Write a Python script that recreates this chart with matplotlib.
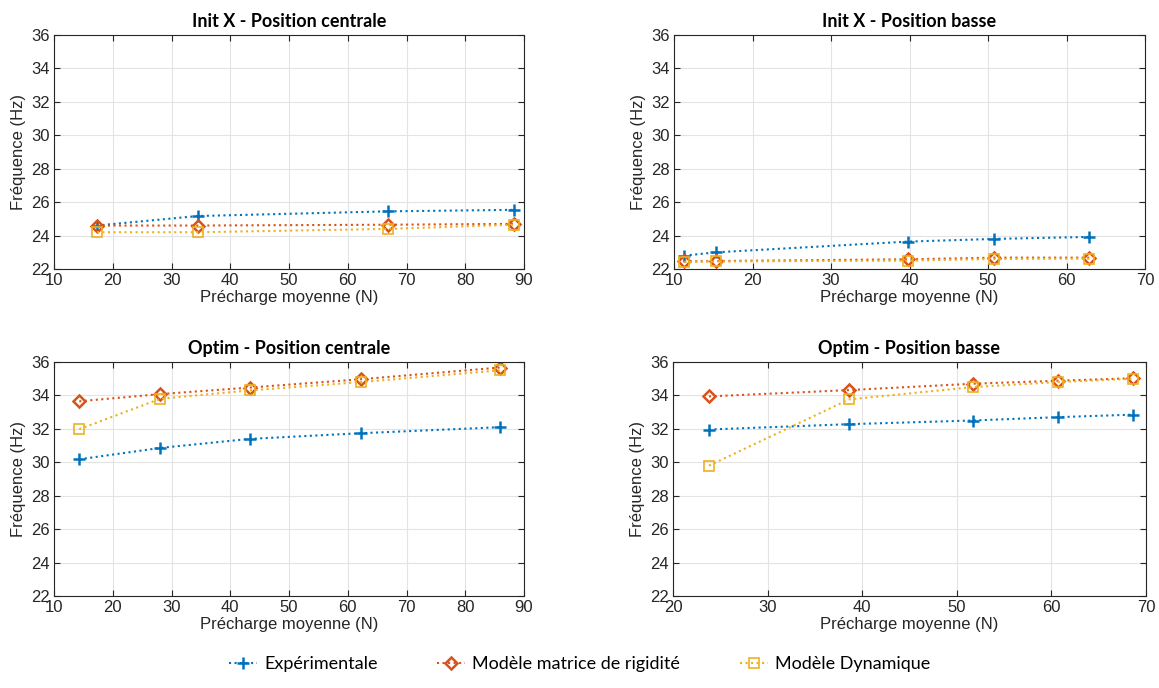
import matplotlib
matplotlib.use("Agg")
import matplotlib.pyplot as plt

# ---- data ----
titles = ["Init X - Position centrale", "Init X - Position basse",
          "Optim - Position centrale", "Optim - Position basse"]
series_names = ["Expérimentale", "Modèle matrice de rigidité", "Modèle Dynamique"]

x_tl = [17.3, 34.5, 66.9, 88.3]
exp_tl = [24.6, 25.17, 25.45, 25.54]
rig_tl = [24.6, 24.6, 24.65, 24.7]
dyn_tl = [24.2, 24.2, 24.4, 24.65]

x_tr = [11.3, 15.4, 39.8, 50.8, 62.9]
exp_tr = [22.8, 23.0, 23.64, 23.8, 23.92]
rig_tr = [22.45, 22.48, 22.58, 22.68, 22.68]
dyn_tr = [22.42, 22.45, 22.5, 22.6, 22.62]

x_bl = [14.3, 28.1, 43.3, 62.3, 85.9]
exp_bl = [30.18, 30.86, 31.4, 31.74, 32.1]
rig_bl = [33.65, 34.08, 34.47, 34.97, 35.67]
dyn_bl = [31.98, 33.8, 34.3, 34.8, 35.5]

x_br = [23.8, 38.6, 51.7, 60.7, 68.6]
exp_br = [31.96, 32.28, 32.5, 32.7, 32.85]
rig_br = [33.94, 34.32, 34.7, 34.88, 35.03]
dyn_br = [29.8, 33.76, 34.5, 34.8, 35.0]

xlims = [(10, 90), (10, 70), (10, 90), (20, 70)]
xtick_sets = [list(range(10, 91, 10)), list(range(10, 71, 10)),
              list(range(10, 91, 10)), list(range(20, 71, 10))]
yticks = list(range(22, 37, 2))

panels = [(x_tl, exp_tl, rig_tl, dyn_tl), (x_tr, exp_tr, rig_tr, dyn_tr),
          (x_bl, exp_bl, rig_bl, dyn_bl), (x_br, exp_br, rig_br, dyn_br)]

colors = ["#0072BD", "#D95319", "#EDB120"]
markers = ["+", "D", "s"]

W, H = 1159, 688
fig = plt.figure(figsize=(W / 100, H / 100), dpi=100)
# axes rects in pixels: left, right, top, bottom
rects = [(54, 524, 35, 269), (674, 1145, 35, 269),
         (54, 524, 362, 596), (673, 1146, 362, 596)]

tickfont = "Liberation Sans"
titlefont = "Lato"
handles = []
for i, (rect, data) in enumerate(zip(rects, panels)):
    l, r, t, b = rect
    ax = fig.add_axes([l / W, 1 - b / H, (r - l) / W, (b - t) / H])
    xs = data[0]
    for k in range(3):
        kw = dict(color=colors[k], linestyle=":", linewidth=1.5, marker=markers[k],
                  label=series_names[k])
        if k == 0:
            kw.update(markersize=9, markeredgewidth=1.8)
        elif k == 1:
            kw.update(markersize=6, markerfacecolor="none", markeredgewidth=1.8)
        else:
            kw.update(markersize=6.5, markerfacecolor="none", markeredgewidth=1.2)
        h, = ax.plot(xs, data[k + 1], **kw)
        if i == 0:
            handles.append(h)
    ax.set_xlim(*xlims[i])
    ax.set_ylim(22, 36)
    ax.set_xticks(xtick_sets[i])
    ax.set_yticks(yticks)
    ax.grid(True, color="#e3e3e3", linewidth=0.8)
    ax.set_axisbelow(True)
    for s in ax.spines.values():
        s.set_color("#262626")
        s.set_linewidth(0.8)
    ax.tick_params(direction="in", length=4, color="#262626", labelsize=12,
                   labelcolor="#262626", top=True, right=True, pad=3)
    for lab in ax.get_xticklabels() + ax.get_yticklabels():
        lab.set_fontfamily(tickfont)
    ax.set_xlabel("Précharge moyenne (N)", fontsize=12, family=tickfont,
                  color="#262626", labelpad=1)
    ax.set_ylabel("Fréquence (Hz)", fontsize=12, family=tickfont,
                  color="#262626", labelpad=4)
    ax.set_title(titles[i], fontsize=13, fontweight="bold", family=titlefont,
                 pad=6)

fig.legend(handles=handles, loc="center", bbox_to_anchor=(0.5, 1 - 664 / H),
           ncol=3, frameon=False, prop={"family": titlefont, "size": 13},
           handlelength=1.55, columnspacing=3.3, handletextpad=0.4)

fig.savefig("out.png", dpi=100)
